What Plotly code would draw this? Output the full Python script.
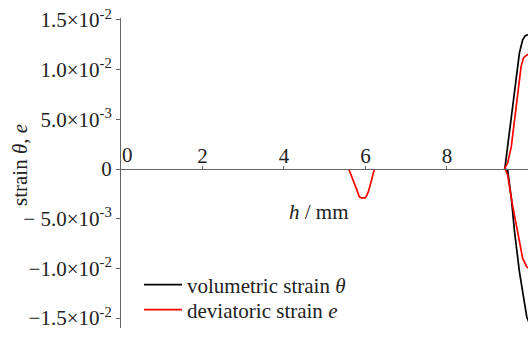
import plotly.graph_objects as go

# Volumetric strain theta along h (upper and lower branches near h = 10 mm)
theta_upper_h = [9.42, 9.47, 9.53, 9.61, 9.70, 9.78, 9.86, 9.92, 9.97, 10.02]
theta_upper_v = [0.0, 0.00161, 0.00363, 0.00665, 0.00930, 0.01170, 0.01300, 0.01340, 0.01351, 0.01345]
theta_lower_h = [9.43, 9.49, 9.58, 9.66, 9.78, 9.90, 9.96, 10.02]
theta_lower_v = [0.0, -0.0001, -0.00292, -0.00632, -0.01035, -0.01371, -0.01489, -0.0155]

# Deviatoric strain e: dip around h = 6 mm plus branches near h = 10 mm
e_dip_h = [5.59, 5.68, 5.78, 5.85, 5.90, 6.00, 6.07, 6.15, 6.22]
e_dip_v = [0.0, -0.0009, -0.0020, -0.0028, -0.0029, -0.0029, -0.0023, -0.0011, 0.0]
e_upper_h = [9.41, 9.49, 9.58, 9.66, 9.74, 9.82, 9.88, 9.96, 10.02]
e_upper_v = [0.0, 0.0006, 0.00225, 0.00494, 0.00796, 0.01031, 0.01119, 0.01149, 0.01152]
e_lower_h = [9.43, 9.49, 9.61, 9.74, 9.86, 9.96, 10.02]
e_lower_v = [0.0, -0.0006, -0.00363, -0.00632, -0.0090, -0.00985, -0.0100]

y_tickvals = [-0.015, -0.01, -0.005, 0, 0.005, 0.01, 0.015]
y_ticktext = [
    "\u22121.5\u00d710<sup>-2</sup>",
    "\u22121.0\u00d710<sup>-2</sup>",
    "\u2212 5.0\u00d710<sup>-3</sup>",
    "0",
    "5.0\u00d710<sup>-3</sup>",
    "1.0\u00d710<sup>-2</sup>",
    "1.5\u00d710<sup>-2</sup>",
]
x_tickvals = [2, 4, 6, 8]
x_ticktext = ["2", "4", "6", "8"]

FONT = "Liberation Serif"
FS = 21
TXT = "#222222"
AX = "#666666"
Y_MIN, Y_MAX = -0.0160, 0.0152
ML, MR, MT, MB = 121, 0, 18, 11
W, H = 528, 339
PLOT_W = W - ML - MR
PLOT_H = H - MT - MB


def px_x(p):
    return (p - ML) / PLOT_W


def px_y(p):
    return 1 - (p - MT) / PLOT_H


def join(*parts):
    xs, ys = [], []
    for px, py in parts:
        if xs:
            xs.append(None)
            ys.append(None)
        xs.extend(px)
        ys.extend(py)
    return xs, ys


bx, by = join((theta_upper_h, theta_upper_v), (theta_lower_h, theta_lower_v))
rx, ry = join((e_dip_h, e_dip_v), (e_upper_h, e_upper_v), (e_lower_h, e_lower_v))

fig = go.Figure()
fig.add_trace(go.Scatter(x=bx, y=by, mode="lines", name="volumetric strain <i>\u03b8</i>",
                         line=dict(color="black", width=1.7), connectgaps=False,
                         legend="legend"))
fig.add_trace(go.Scatter(x=rx, y=ry, mode="lines", name="deviatoric strain <i>e</i>",
                         line=dict(color="#ff0000", width=1.7), connectgaps=False,
                         legend="legend2"))

zero_pos = (0 - Y_MIN) / (Y_MAX - Y_MIN)
leg_common = dict(xanchor="left", yanchor="middle", bgcolor="rgba(0,0,0,0)",
                  font=dict(size=FS, family=FONT, color=TXT), itemwidth=38)

fig.update_layout(
    width=W, height=H,
    margin=dict(l=ML, r=MR, t=MT, b=MB),
    paper_bgcolor="white", plot_bgcolor="white",
    font=dict(family=FONT, size=FS, color=TXT),
    showlegend=True,
    legend=dict(x=px_x(139), y=px_y(285), **leg_common),
    legend2=dict(x=px_x(139), y=px_y(310), **leg_common),
    xaxis=dict(range=[0, 9.99], anchor="free", position=zero_pos, side="top",
               showline=True, linecolor=AX, linewidth=1,
               tickvals=x_tickvals, ticktext=x_ticktext,
               ticks="outside", ticklen=3, tickcolor=AX, ticklabelstandoff=-5,
               showgrid=False, zeroline=False,
               tickfont=dict(family=FONT, size=FS, color=TXT)),
    yaxis=dict(range=[Y_MIN, Y_MAX], showline=True, linecolor=AX, linewidth=1,
               tickvals=y_tickvals, ticktext=y_ticktext,
               ticks="outside", ticklen=4, tickcolor=AX,
               showgrid=False, zeroline=False,
               tickfont=dict(family=FONT, size=FS, color=TXT)),
    annotations=[
        dict(text="0", x=0.16, y=0, xref="x", yref="y", yanchor="bottom",
             yshift=0, showarrow=False, font=dict(family=FONT, size=FS, color=TXT)),
        dict(text="<i>h</i> / mm", x=px_x(319), y=px_y(212), xref="paper", yref="paper",
             xanchor="center", yanchor="middle",
             showarrow=False, font=dict(family=FONT, size=FS, color=TXT)),
        dict(text="strain <i>\u03b8</i>, <i>e</i>", textangle=-90, showarrow=False,
             x=px_x(20), y=px_y(165), xref="paper", yref="paper",
             xanchor="center", yanchor="middle",
             font=dict(family=FONT, size=FS, color=TXT)),
    ],
)

fig.write_html("out.html")
